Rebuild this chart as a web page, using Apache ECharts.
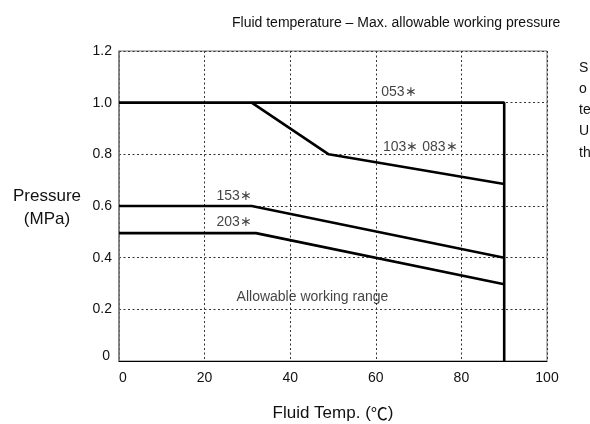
<!DOCTYPE html>
<html>
<head>
<meta charset="utf-8">
<script src="https://cdn.jsdelivr.net/npm/echarts@6/dist/echarts.min.js"></script>
<style>
  html, body { margin: 0; padding: 0; background: #fff; }
  #main { width: 590px; height: 424px; }
</style>
</head>
<body>
<div id="main"></div>
<script>
// curve data: [fluid temp (°C), pressure (MPa)]
const line053 = [[0, 1.0], [90, 1.0], [90, 0]];
const line103 = [[31, 1.0], [49, 0.8], [90, 0.685]];
const line153 = [[0, 0.6], [31, 0.6], [90, 0.4]];
const line203 = [[0, 0.495], [32, 0.495], [90, 0.297]];

// curve names and where their labels sit
const curveLabels = ['053∗', '103∗ 083∗', '153∗', '203∗', 'Allowable working range'];
const labelPos = [[65.4, 1.04], [70.4, 0.827], [26.9, 0.637], [26.9, 0.537], [45.2, 0.247]];

const xTicks = [0, 20, 40, 60, 80, 100];
const yTicks = [0, 0.2, 0.4, 0.6, 0.8, 1.0, 1.2];

// note at right edge, only its first letters are visible in the frame
const sideNote = ['S', 'o', 'te', 'U', 'th'];

const chartDom = document.getElementById('main');
const myChart = echarts.init(chartDom);

const font = 'Liberation Sans, Arial, Helvetica, sans-serif';
const curve = (data) => ({
  type: 'line',
  data: data,
  symbol: 'none',
  lineStyle: { color: '#000', width: 2.6 },
  z: 5,
  silent: true
});

const option = {
  animation: false,
  backgroundColor: '#fff',
  textStyle: { fontFamily: font },
  title: {
    text: 'Fluid temperature – Max. allowable working pressure',
    left: 227,
    top: 11,
    textStyle: { fontFamily: font, fontSize: 14, fontWeight: 'normal', color: '#111' }
  },
  grid: {
    left: 119, right: 43, top: 51, bottom: 63,
    containLabel: false,
    outerBoundsMode: 'none',
    show: true, borderColor: '#777', borderWidth: 1
  },
  xAxis: {
    type: 'value',
    min: 0, max: 100, interval: 20,
    name: 'Fluid Temp. ({c|℃})',
    nameLocation: 'middle',
    nameGap: 44,
    nameTextStyle: {
      fontFamily: font, fontSize: 17, color: '#111',
      rich: { c: { fontFamily: 'Noto Sans CJK JP', fontSize: 17, color: '#111' } }
    },
    axisLine: { show: true, lineStyle: { color: '#000', width: 1 } },
    axisTick: { show: false },
    axisLabel: {
      fontFamily: font, fontSize: 14, color: '#111', margin: 10,
      alignMinLabel: 'left',
      formatter: (v) => xTicks.includes(v) ? String(v) : ''
    },
    splitLine: { show: true, lineStyle: { color: '#333', type: [2, 2.5], width: 1 } }
  },
  yAxis: {
    type: 'value',
    min: 0, max: 1.2, interval: 0.2,
    axisLine: { show: true, lineStyle: { color: '#777', width: 1.5 } },
    axisTick: { show: false },
    axisLabel: {
      fontFamily: font, fontSize: 14, color: '#111', margin: 7,
      formatter: (v) => {
        const t = yTicks.find((y) => Math.abs(y - v) < 1e-6);
        if (t === undefined) return '';
        return t === 0 ? '{z|0}' : t.toFixed(1);
      },
      rich: {
        z: { fontFamily: font, fontSize: 14, color: '#111', padding: [0, 2, 9, 0] }
      }
    },
    splitLine: { show: true, lineStyle: { color: '#333', type: [2, 2.5], width: 1 } }
  },
  graphic: [
    {
      type: 'text', x: 47, y: 185,
      style: {
        text: 'Pressure\n(MPa)', font: '17px ' + font, fill: '#111',
        lineHeight: 23, align: 'center'
      }
    },
    {
      type: 'text', left: 579, top: 57,
      style: {
        text: sideNote.join('\n'), font: '14px ' + font, fill: '#111', lineHeight: 21.3
      }
    }
  ],
  series: [
    curve(line053),
    curve(line103),
    curve(line153),
    curve(line203),
    {
      type: 'scatter',
      symbolSize: 0,
      silent: true,
      data: labelPos.map((p, i) => ({ value: p, name: curveLabels[i] })),
      label: {
        show: true,
        position: 'inside',
        formatter: (p) => p.name,
        fontFamily: font,
        fontSize: 14,
        color: '#111'
      },
      z: 6
    }
  ]
};

option && myChart.setOption(option);
</script>
</body>
</html>
